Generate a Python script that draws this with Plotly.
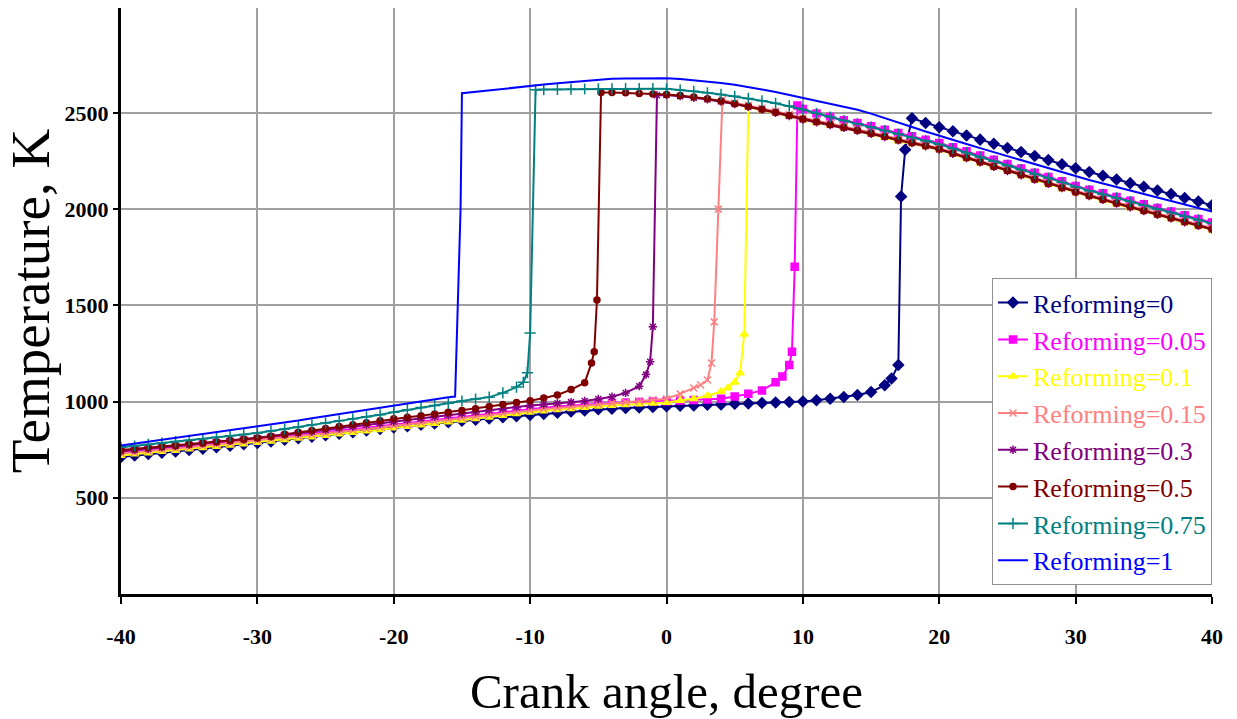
import plotly.graph_objects as go

# ---------------- data ----------------
series_names = ["Reforming=0", "Reforming=0.05", "Reforming=0.1", "Reforming=0.15",
                "Reforming=0.3", "Reforming=0.5", "Reforming=0.75", "Reforming=1"]
x_ticks = [-40, -30, -20, -10, 0, 10, 20, 30, 40]
y_ticks = [500, 1000, 1500, 2000, 2500]

# Reforming = 0
ca_r0 = list(range(-40, 17)) + [16.5, 17, 17.2, 17.5, 18] + list(range(19, 41))
t_r0 = [712, 720, 727, 734, 741, 748, 755, 763, 770, 778,
        785, 793, 801, 809, 817, 825, 833, 841, 849, 857,
        865, 872, 879, 886, 893, 900, 906, 912, 918, 924,
        930, 936, 942, 948, 954, 960, 963, 966, 969, 972,
        975, 978, 980, 983, 985, 988, 990, 993, 995, 998,
        1000, 1007, 1015, 1024, 1034, 1050, 1085,
        1120, 1190, 2065, 2308, 2472,
        2448, 2425, 2404, 2383, 2361, 2340, 2318, 2297, 2276, 2255, 2233, 2212,
        2193, 2173, 2154, 2135, 2116, 2097, 2078, 2058, 2039, 2020]

# Reforming = 0.05
ca_r005 = list(range(-40, 9)) + [8.5, 9, 9.2, 9.4, 9.6] + list(range(10, 41))
t_r005 = [735, 742, 748, 755, 761, 768, 775, 782, 789, 796,
          803, 810, 818, 825, 832, 840, 848, 856, 864, 872,
          880, 888, 896, 904, 912, 920, 928, 937, 945, 954,
          962, 968, 974, 979, 985, 990, 993, 995, 998, 1000,
          1002, 1005, 1008, 1011, 1015, 1026, 1040, 1058, 1100,
          1130, 1190, 1259, 1700, 2538,
          2520, 2497, 2478, 2462, 2448, 2431, 2413, 2395, 2378, 2361, 2344,
          2322, 2300, 2278, 2256, 2234, 2211, 2189, 2167, 2145, 2120,
          2101, 2082, 2063, 2044, 2025, 2006, 1987, 1968, 1949, 1930]

# Reforming = 0.1
ca_r01 = list(range(-40, 5)) + [4.5, 5, 5.4, 5.7, 6.0] + list(range(7, 41))
t_r01 = [720, 727, 733, 740, 746, 753, 760, 766, 773, 780,
         787, 794, 801, 809, 816, 824, 831, 839, 847, 854,
         862, 870, 878, 886, 894, 903, 911, 919, 928, 936,
         945, 951, 957, 963, 969, 975, 979, 983, 987, 991,
         995, 1005, 1015, 1030, 1052,
         1071, 1100, 1148, 1350, 2530,
         2514, 2498, 2481, 2463, 2449, 2435, 2420, 2405, 2389, 2372, 2354, 2340, 2324, 2307,
         2285, 2262, 2240, 2217, 2195, 2173, 2150, 2128, 2106, 2084,
         2065, 2045, 2026, 2007, 1987, 1968, 1949, 1929, 1910, 1891]

# Reforming = 0.15
ca_r015 = list(range(-40, 3)) + [2.5, 3, 3.3, 3.5, 3.8, 4.1] + list(range(5, 41))
t_r015 = [730, 736, 743, 750, 756, 763, 770, 777, 784, 791,
          798, 805, 813, 820, 828, 835, 843, 851, 858, 866,
          874, 882, 890, 898, 906, 915, 923, 931, 939, 947,
          955, 961, 967, 973, 979, 985, 991, 997, 1003, 1009,
          1015, 1040, 1070,
          1086, 1112, 1200, 1414, 2000, 2568,
          2553, 2539, 2524, 2508, 2491, 2473, 2459, 2445, 2430, 2415, 2399, 2382, 2364, 2350, 2334, 2317,
          2295, 2272, 2250, 2227, 2205, 2183, 2160, 2138, 2116, 2094,
          2075, 2055, 2036, 2017, 1997, 1978, 1959, 1939, 1920, 1901]

# Reforming = 0.3
ca_r03 = list(range(-40, -1)) + [-1.5, -1.2, -1.0, -0.7] + list(range(0, 41))
t_r03 = [742, 748, 755, 762, 769, 776, 783, 789, 796, 803,
         810, 818, 827, 835, 844, 852, 861, 869, 878, 886,
         895, 904, 912, 921, 929, 938, 946, 955, 963, 972,
         980, 985, 991, 997, 1003, 1013, 1025, 1045, 1080,
         1140, 1207, 1389, 2592,
         2593, 2587, 2579, 2570, 2559, 2546, 2532, 2517, 2501, 2484, 2466,
         2451, 2437, 2422, 2407, 2391, 2375, 2357, 2343, 2327, 2310,
         2288, 2265, 2243, 2220, 2198, 2176, 2153, 2131, 2109, 2087,
         2068, 2048, 2029, 2010, 1990, 1971, 1952, 1932, 1913, 1894]

# Reforming = 0.5
ca_r05 = list(range(-40, -5)) + [-5.5, -5.3, -5.1, -4.8] + list(range(-4, 41))
t_r05 = [748, 754, 760, 766, 772, 779, 785, 791, 797, 804,
         810, 820, 830, 840, 850, 860, 870, 880, 890, 900,
         910, 918, 926, 935, 944, 953, 963, 974, 985, 995,
         1004, 1018, 1034, 1062, 1098,
         1200, 1259, 1528, 2606,
         2606, 2604, 2601, 2598, 2596,
         2590, 2582, 2573, 2562, 2548, 2534, 2519, 2503, 2486, 2468,
         2454, 2440, 2425, 2410, 2394, 2377, 2359, 2345, 2329, 2312,
         2290, 2267, 2245, 2222, 2200, 2178, 2155, 2133, 2111, 2089,
         2070, 2050, 2031, 2012, 1992, 1973, 1954, 1934, 1915, 1896]

# Reforming = 0.75
ca_r075 = list(range(-40, -11)) + [-11, -10.5, -10.2, -10.0, -9.6] + list(range(-9, 41))
t_r075 = [762, 769, 777, 784, 792, 799, 807, 814, 822, 829,
          837, 847, 857, 868, 879, 889, 900, 910, 921, 931,
          945, 957, 969, 980, 991, 1003, 1013, 1023, 1045,
          1075, 1100, 1150, 1356, 2620,
          2621, 2622, 2623, 2624, 2625, 2625, 2626, 2626, 2626, 2625,
          2619, 2612, 2604, 2596, 2586, 2575, 2563, 2550, 2536, 2518,
          2498, 2478, 2460, 2443, 2426, 2408, 2390, 2372, 2355, 2337,
          2315, 2293, 2271, 2249, 2227, 2205, 2183, 2161, 2139, 2115,
          2096, 2077, 2058, 2039, 2020, 2001, 1982, 1963, 1944, 1925]

# Reforming = 1
ca_r1 = list(range(-40, -15)) + [-15.5, -15.4, -15.1, -15.0] + list(range(-14, 41))
t_r1 = [772, 782, 792, 801, 811, 820, 830, 839, 849, 858,
        868, 879, 890, 901, 913, 924, 935, 946, 957, 968,
        980, 992, 1003, 1014, 1022,
        1026, 1259, 2000, 2602,
        2610, 2617, 2625, 2632, 2640, 2647, 2654, 2660, 2667, 2673,
        2677, 2679, 2680, 2681, 2680, 2676, 2670, 2663, 2655, 2646,
        2635, 2622, 2608, 2593, 2577, 2562, 2548, 2533, 2516, 2496,
        2474, 2451, 2427, 2403, 2380, 2359, 2338, 2317, 2296, 2275,
        2254, 2232, 2211, 2190, 2169, 2151, 2133, 2114, 2096, 2078,
        2060, 2042, 2023, 2005, 1987]

series_x = [ca_r0, ca_r005, ca_r01, ca_r015, ca_r03, ca_r05, ca_r075, ca_r1]
series_y = [t_r0, t_r005, t_r01, t_r015, t_r03, t_r05, t_r075, t_r1]

# ---------------- styles ----------------
colors = ["#000080", "#FF00FF", "#FFFF00", "#FF8080", "#800080", "#800000", "#008080", "#0000FF"]
symbols = ["diamond", "square", "triangle-up", "x-thin-open", "asterisk-open", "circle",
           "cross-thin-open", None]
msizes = [8, 7, 7, 7, 7, 6, 8, 0]

SERIF = "Liberation Serif, Times New Roman, serif"

fig = go.Figure()
for name, xs, ys, col, sym, ms in zip(series_names, series_x, series_y, colors, symbols, msizes):
    label = f"<span style='color:{col}'>{name}</span>"
    if sym is None:
        fig.add_trace(go.Scatter(x=xs, y=ys, mode="lines", name=label,
                                 line=dict(color=col, width=2)))
    else:
        fig.add_trace(go.Scatter(x=xs, y=ys, mode="lines+markers", name=label,
                                 line=dict(color=col, width=2),
                                 marker=dict(symbol=sym, size=ms, color=col,
                                             line=dict(color=col, width=1.5))))

fig.update_layout(
    width=1237, height=719,
    margin=dict(l=121, r=25, t=8, b=125),
    paper_bgcolor="white", plot_bgcolor="white",
    font=dict(family=SERIF, color="black"),
    legend=dict(x=1.0, xanchor="right", y=0.015, yanchor="bottom",
                bgcolor="white", bordercolor="#909090", borderwidth=1,
                font=dict(family=SERIF, size=26), tracegroupgap=0),
)

fig.update_xaxes(range=[-40, 40], tickvals=x_ticks, ticktext=[str(v) for v in x_ticks],
                 ticks="outside", ticklen=7, tickwidth=2, tickcolor="black",
                 showline=True, linecolor="black", linewidth=3,
                 showgrid=True, gridcolor="#a0a0a0", gridwidth=1.5, zeroline=False,
                 tickfont=dict(family=SERIF, size=22, color="black", weight="bold"),
                 ticklabelstandoff=14,
                 title=dict(text="Crank angle, degree",
                            font=dict(family=SERIF, size=49, color="black"), standoff=26))

fig.update_yaxes(range=[0, 3045], tickvals=y_ticks, ticktext=[str(v) for v in y_ticks],
                 ticks="outside", ticklen=5, tickwidth=2, tickcolor="black",
                 showline=True, linecolor="black", linewidth=3,
                 showgrid=True, gridcolor="#a0a0a0", gridwidth=1.5, zeroline=False,
                 tickfont=dict(family=SERIF, size=22, color="black", weight="bold"),
                 title=dict(text="Temperature, K",
                            font=dict(family=SERIF, size=55, color="black"), standoff=0))

fig.write_html("out.html")
